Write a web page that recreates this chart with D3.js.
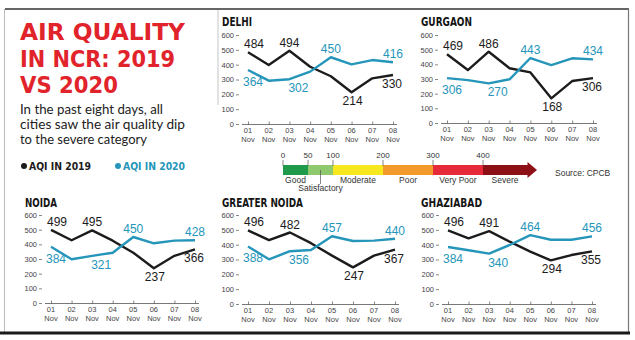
<!DOCTYPE html>
<html>
<head>
<meta charset="utf-8">
<script src="https://cdn.jsdelivr.net/npm/d3@7"></script>
<style>
  body { margin: 0; background: #fff; }
  svg { display: block; }
</style>
</head>
<body>
<svg id="chart" width="635" height="340"></svg>
<script>
// data
const days = ["01", "02", "03", "04", "05", "06", "07", "08"];
const yTicks = [0, 100, 200, 300, 400, 500, 600];

const delhi2019 = [484, 398, 494, 386, 322, 214, 308, 330];
const delhi2020 = [364, 292, 302, 353, 450, 402, 431, 416];
const gurgaon2019 = [469, 361, 486, 373, 345, 168, 286, 306];
const gurgaon2020 = [306, 292, 270, 298, 443, 395, 441, 434];
const noida2019 = [499, 428, 495, 425, 343, 237, 322, 366];
const noida2020 = [384, 298, 321, 343, 450, 407, 425, 428];
const gnoida2019 = [496, 431, 482, 410, 326, 247, 326, 367];
const gnoida2020 = [388, 301, 356, 364, 457, 425, 427, 440];
const ghaz2019 = [496, 443, 491, 420, 353, 294, 330, 355];
const ghaz2020 = [384, 362, 340, 398, 464, 433, 433, 456];

const aqiBreaks = [0, 50, 100, 200, 300, 400];
const aqiCats = ["Good", "Satisfactory", "Moderate", "Poor", "Very Poor", "Severe"];
const aqiTicks = [0, 50, 100, 200, 300, 400];

const BLACK = "#1c1c1c", TEAL = "#2596ba", RED = "#e1232b";
const svg = d3.select("#chart");

// frame
svg.append("line").attr("x1", 5).attr("x2", 629).attr("y1", 9).attr("y2", 9)
  .attr("stroke", "#333").attr("stroke-width", 1.5);
svg.append("line").attr("x1", 628.5).attr("x2", 628.5).attr("y1", 9).attr("y2", 333)
  .attr("stroke", "#777").attr("stroke-width", 1.2);
svg.append("line").attr("x1", 4.5).attr("x2", 4.5).attr("y1", 9).attr("y2", 333)
  .attr("stroke", "#bbb").attr("stroke-width", 1);
svg.append("line").attr("x1", 0).attr("x2", 630).attr("y1", 333).attr("y2", 333)
  .attr("stroke", "#1a1a1a").attr("stroke-width", 3);
svg.append("line").attr("x1", 218).attr("x2", 218).attr("y1", 10).attr("y2", 105)
  .attr("stroke", "#e2e2e2").attr("stroke-width", 2);

// big title
const titleLines = [["AIR QUALITY", 40, 165], ["IN NCR: 2019", 67, 155], ["VS 2020", 93, 98]];
svg.selectAll(".ttl").data(titleLines).join("text")
  .attr("x", 20).attr("y", d => d[1])
  .attr("textLength", d => d[2]).attr("lengthAdjust", "spacingAndGlyphs")
  .style("font-family", "'DejaVu Sans Condensed', 'DejaVu Sans', sans-serif")
  .style("font-weight", "bold").style("font-size", "23.5px")
  .style("fill", RED).text(d => d[0]);

const subLines = [["In the past eight days, all", 114, 143],
  ["cities saw the air quality dip", 129, 165],
  ["to the severe category", 144, 127]];
svg.selectAll(".sub").data(subLines).join("text")
  .attr("x", 20).attr("y", d => d[1])
  .attr("textLength", d => d[2]).attr("lengthAdjust", "spacingAndGlyphs")
  .style("font-family", "Lato, 'Open Sans', sans-serif")
  .style("font-size", "13px").style("fill", "#222").text(d => d[0]);

// legend
const legend = [["AQI IN 2019", BLACK, 24], ["AQI IN 2020", TEAL, 118]];
legend.forEach(l => {
  svg.append("circle").attr("cx", l[2]).attr("cy", 166).attr("r", 3).attr("fill", l[1]);
  svg.append("text").attr("x", l[2] + 5).attr("y", 170)
    .attr("textLength", 62).attr("lengthAdjust", "spacingAndGlyphs")
    .style("font-family", "'DejaVu Sans Condensed', sans-serif").style("font-weight", "bold")
    .style("font-size", "10.5px").style("fill", l[1]).text(l[0]);
});

// AQI scale bar
const sx = d3.scaleLinear().domain([0, 400]).range([283, 483]);
const bandColors = ["#1f9a4b", "#8ec96e", "#f7e71e", "#f39a2b", "#e72a3a", "#8c1016"];
const bands = aqiBreaks.map((b, i) => ({ lo: b, hi: i < aqiBreaks.length - 1 ? aqiBreaks[i + 1] : 490, c: bandColors[i], name: aqiCats[i] }));
svg.selectAll(".band").data(bands).join("rect")
  .attr("x", d => sx(d.lo)).attr("width", d => sx(d.hi) - sx(d.lo))
  .attr("y", 165).attr("height", 10).attr("fill", d => d.c);
svg.append("path")
  .attr("d", `M${sx(490) - 0.5},162 L${sx(508)},170 L${sx(490) - 0.5},178 Z`)
  .attr("fill", bandColors[5]);
svg.selectAll(".btick").data(aqiTicks).join("line")
  .attr("x1", d => sx(d)).attr("x2", d => sx(d)).attr("y1", 160).attr("y2", 166)
  .attr("stroke", "#555").attr("stroke-width", 0.7);
svg.selectAll(".bnum").data(aqiTicks).join("text")
  .attr("x", d => sx(d)).attr("y", 158).attr("text-anchor", "middle")
  .style("font-family", "'Liberation Sans Narrow', sans-serif").style("font-size", "8px")
  .style("fill", "#333").text(d => d);
svg.selectAll(".bcat").data(bands).join("text")
  .attr("x", d => d.name === "Severe" ? sx(440) + 2 : (sx(d.lo) + sx(d.hi)) / 2)
  .attr("y", d => d.name === "Satisfactory" ? 191 : 183)
  .attr("text-anchor", "middle")
  .style("font-family", "'Liberation Sans Narrow', sans-serif").style("font-size", "8.5px")
  .style("fill", "#333").text(d => d.name);
svg.append("line").attr("x1", 320.5).attr("x2", 320.5).attr("y1", 170).attr("y2", 184)
  .attr("stroke", "#555").attr("stroke-width", 0.7);
svg.append("text").attr("x", 555).attr("y", 176)
  .style("font-family", "'Liberation Sans Narrow', sans-serif").style("font-size", "8.5px")
  .style("fill", "#333").text("Source: CPCB");

// the five city panels
const panels = [
  { name: "DELHI", a: delhi2019, b: delhi2020, x0: 248, x1: 393, yt: 35, yb: 124, tx: 222, ty: 26, tw: 30 },
  { name: "GURGAON", a: gurgaon2019, b: gurgaon2020, x0: 447, x1: 593, yt: 35, yb: 123, tx: 421, ty: 26, tw: 51 },
  { name: "NOIDA", a: noida2019, b: noida2020, x0: 51, x1: 195, yt: 215, yb: 303, tx: 25, ty: 207, tw: 32 },
  { name: "GREATER NOIDA", a: gnoida2019, b: gnoida2020, x0: 248, x1: 395, yt: 215, yb: 304, tx: 222, ty: 207, tw: 81 },
  { name: "GHAZIABAD", a: ghaz2019, b: ghaz2020, x0: 448, x1: 592, yt: 215, yb: 304, tx: 421, ty: 207, tw: 61 }
];

// which points get a value label: [index, side, dx]
const labA = [[0, "up", 6], [2, "up", 0], [5, "down", 1], [7, "down", -1]];
const labB = [[0, "down", 5], [2, "down", 9], [4, "up", 0], [7, "up", 0]];

panels.forEach(p => {
  const g = svg.append("g");
  const x = d3.scalePoint().domain(days).range([p.x0, p.x1]);
  const y = d3.scaleLinear().domain([0, 600]).range([p.yb, p.yt]);

  g.append("text").attr("x", p.tx).attr("y", p.ty)
    .attr("textLength", p.tw).attr("lengthAdjust", "spacingAndGlyphs")
    .style("font-family", "'DejaVu Sans Condensed', sans-serif").style("font-weight", "bold")
    .style("font-size", "12.5px").style("fill", "#151515").text(p.name);

  const yAxis = g.append("g").attr("transform", `translate(${p.x0 - 9},0)`)
    .call(d3.axisLeft(y).tickValues(yTicks).tickSize(3).tickPadding(2));
  yAxis.select(".domain").remove();
  yAxis.selectAll("line").attr("stroke", "#555").attr("stroke-width", 0.7);
  yAxis.selectAll("text").style("font-family", "'Liberation Sans Narrow', sans-serif")
    .style("font-size", "7.5px").style("fill", "#444");

  g.append("line").attr("x1", p.x0 - 6).attr("x2", p.x1 + 4).attr("y1", p.yb + 0.5).attr("y2", p.yb + 0.5)
    .attr("stroke", "#555").attr("stroke-width", 0.8);
  const xAxis = g.append("g").attr("transform", `translate(0,${p.yb + 0.5})`)
    .call(d3.axisBottom(x).tickSize(-3).tickFormat(""));
  xAxis.select(".domain").remove();
  xAxis.selectAll("line").attr("stroke", "#555").attr("stroke-width", 0.7);
  const dl = g.selectAll(".dl").data(days).join("text")
    .attr("text-anchor", "middle")
    .style("font-family", "'Liberation Sans Narrow', sans-serif").style("font-size", "7.5px")
    .style("fill", "#444");
  dl.append("tspan").attr("x", d => x(d)).attr("y", p.yb + 9).text(d => d);
  dl.append("tspan").attr("x", d => x(d)).attr("y", p.yb + 18).text("Nov");

  const line = d3.line().x((d, i) => x(days[i])).y(d => y(d));
  [[p.a, BLACK, labA], [p.b, TEAL, labB]].forEach(([vals, col, labs]) => {
    g.append("path").attr("d", line(vals)).attr("fill", "none")
      .attr("stroke", col).attr("stroke-width", 2.4).attr("stroke-linejoin", "round");
    g.selectAll(null).data(labs).join("text")
      .attr("x", d => x(days[d[0]]) + d[2])
      .attr("y", d => y(vals[d[0]]) + (d[1] === "up" ? -4 : (d[0] === 0 ? 16 : 13)))
      .attr("text-anchor", "middle")
      .style("font-family", "'Liberation Sans Narrow', sans-serif").style("font-size", "12px")
      .style("fill", col).text(d => vals[d[0]]);
  });
});
</script>
</body>
</html>
